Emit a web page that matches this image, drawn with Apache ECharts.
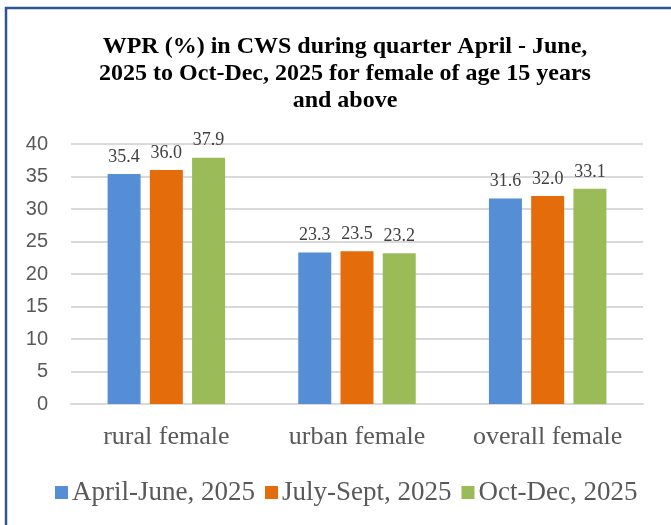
<!DOCTYPE html>
<html>
<head>
<meta charset="utf-8">
<script src="https://cdn.jsdelivr.net/npm/echarts@6/dist/echarts.min.js"></script>
<style>
html,body{margin:0;padding:0;background:#fff;}
#main{width:671px;height:525px;}
</style>
</head>
<body>
<div id="main"></div>
<script>
// data
var categories = ['rural female', 'urban female', 'overall female'];
var seriesNames = ['April-June, 2025', 'July-Sept, 2025', 'Oct-Dec, 2025'];
var aprJun = [35.4, 23.3, 31.6];
var julSep = [36.0, 23.5, 32.0];
var octDec = [37.9, 23.2, 33.1];
var colors = ['#558ED5', '#E46C0A', '#9BBB59'];

var serif = '"Liberation Serif", "Times New Roman", serif';

var myChart = echarts.init(document.getElementById('main'));

function makeSeries(name, data, color) {
    return {
        name: name,
        type: 'bar',
        data: data,
        barWidth: 33,
        barGap: '28%',
        itemStyle: {color: color},
        label: {
            show: true,
            position: 'top',
            distance: 8,
            fontFamily: serif,
            fontSize: 18,
            color: '#404040',
            formatter: function(p) { return p.value.toFixed(1); }
        }
    };
}

var option = {
    animation: false,
    backgroundColor: '#fff',
    title: {
        text: 'WPR (%) in CWS during quarter April - June,\n2025 to Oct-Dec, 2025 for female of age 15 years\nand above',
        left: 340,
        textAlign: 'center',
        top: 28,
        textStyle: {
            fontFamily: serif,
            fontWeight: 'bold',
            fontSize: 24,
            lineHeight: 27,
            color: '#000'
        }
    },
    legend: {
        data: seriesNames,
        left: 50,
        top: 474,
        itemWidth: 13,
        itemHeight: 13,
        itemGap: 10,
        icon: 'rect',
        textStyle: {
            fontFamily: serif,
            fontSize: 27,
            color: '#595959',
            padding: [0, 0, 0, -1]
        }
    },
    grid: {
        left: 71,
        right: 28,
        top: 144,
        bottom: 121,
        containLabel: false,
        outerBoundsMode: 'none'
    },
    xAxis: {
        type: 'category',
        data: categories,
        axisTick: {show: false},
        axisLine: {lineStyle: {color: '#d9d9d9', width: 2}},
        axisLabel: {
            interval: 0,
            fontFamily: serif,
            fontSize: 26,
            color: '#595959',
            margin: 20
        }
    },
    yAxis: {
        type: 'value',
        min: 0,
        max: 40,
        interval: 5,
        axisLine: {show: false},
        axisTick: {show: false},
        splitLine: {lineStyle: {color: '#d9d9d9', width: 2}},
        axisLabel: {
            fontFamily: '"Liberation Sans", Arial, sans-serif',
            fontSize: 20,
            color: '#595959',
            margin: 23
        }
    },
    graphic: [{
        type: 'rect',
        shape: {x: 6, y: 8, width: 720, height: 600},
        style: {fill: 'none', stroke: '#2E5594', lineWidth: 2.5},
        silent: true
    }],
    series: [
        makeSeries(seriesNames[0], aprJun, colors[0]),
        makeSeries(seriesNames[1], julSep, colors[1]),
        makeSeries(seriesNames[2], octDec, colors[2])
    ]
};

myChart.setOption(option);
</script>
</body>
</html>
